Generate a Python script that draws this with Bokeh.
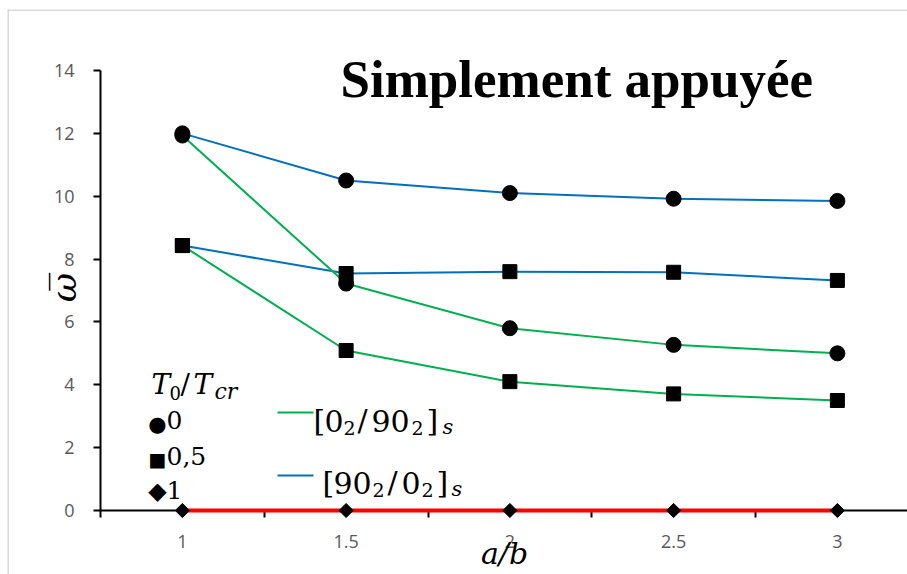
import numpy as np
from bokeh.plotting import figure
from bokeh.models import Range1d, FixedTicker, Label, BoxAnnotation
from bokeh.embed import file_html
from bokeh.resources import INLINE

# ---- data ----
ab = [1, 1.5, 2, 2.5, 3]
x_tick_labels = ["1", "1.5", "2", "2.5", "3"]
y_ticks = [0, 2, 4, 6, 8, 10, 12, 14]
w_0290_t0 = [11.93, 7.22, 5.80, 5.27, 5.00]     # [02/902]s, T0/Tcr = 0
w_0290_t05 = [8.43, 5.09, 4.10, 3.71, 3.50]     # [02/902]s, T0/Tcr = 0,5
w_9002_t0 = [12.00, 10.50, 10.10, 9.92, 9.85]   # [902/02]s, T0/Tcr = 0
w_9002_t05 = [8.43, 7.54, 7.60, 7.58, 7.32]     # [902/02]s, T0/Tcr = 0,5
w_t1 = [0, 0, 0, 0, 0]                          # T0/Tcr = 1

GREEN = "#00B050"
BLUE = "#0070C0"
RED = "#FF0000"

# ---- layout helpers (pixel -> data) ----
PX_X0, PX_PER_X = 100.0, 327.5
PX_Y0, PX_PER_Y = 510.0, 440.0 / 14.0
def X(xp):
    return 0.75 + (xp - PX_X0) / PX_PER_X
def Y(yp):
    return (PX_Y0 - yp) / PX_PER_Y

W, H = 907, 574
p = figure(width=W, height=H, output_backend="svg", toolbar_location=None,
           x_range=Range1d(X(0), X(W)), y_range=Range1d(Y(H), Y(0)),
           min_border_left=0, min_border_right=0, min_border_top=0,
           min_border_bottom=0)
p.grid.visible = False
p.outline_line_color = None
p.background_fill_color = "white"
p.border_fill_color = "white"

# x axis (category-like: labels at values, tick marks between)
edges = [ab[0] - 0.25] + [a + 0.25 for a in ab]
xa = p.xaxis[0]
xa.ticker = FixedTicker(ticks=ab, minor_ticks=edges)
xa.major_label_overrides = dict(zip(ab, x_tick_labels))
xa.fixed_location = 0
xa.bounds = (edges[0], X(W))
xa.major_tick_out = 0
xa.major_tick_in = 0
xa.minor_tick_out = 7
xa.minor_tick_in = 0
xa.minor_tick_line_color = "black"
xa.minor_tick_line_width = 2
xa.axis_line_color = "black"
xa.axis_line_width = 2
xa.major_label_standoff = 17
xa.major_label_text_font = "Open Sans"
xa.major_label_text_font_size = "18px"
xa.major_label_text_color = "#595959"

ya = p.yaxis[0]
ya.ticker = FixedTicker(ticks=y_ticks, minor_ticks=[])
ya.fixed_location = edges[0]
ya.bounds = (0, 14)
ya.major_tick_out = 7
ya.major_tick_in = 0
ya.major_tick_line_color = "black"
ya.major_tick_line_width = 2
ya.minor_tick_out = 0
ya.minor_tick_in = 0
ya.axis_line_color = "black"
ya.axis_line_width = 2
ya.major_label_standoff = 19
ya.major_label_text_font = "Open Sans"
ya.major_label_text_font_size = "18px"
ya.major_label_text_color = "#595959"

# chart-area border (light grey, top and left)
p.add_layout(BoxAnnotation(left=X(7), right=X(8.5), top=Y(9), bottom=Y(H),
                           fill_color="#D9D9D9", fill_alpha=1, line_color=None))
p.add_layout(BoxAnnotation(left=X(7), right=X(W), top=Y(9), bottom=Y(10.5),
                           fill_color="#D9D9D9", fill_alpha=1, line_color=None))

# ---- series ----
for ys, col in [(w_9002_t0, BLUE), (w_9002_t05, BLUE), (w_0290_t0, GREEN), (w_0290_t05, GREEN)]:
    p.line(ab, ys, line_color=col, line_width=2)
p.line(ab, w_t1, line_color=RED, line_width=4, level="overlay")

for ys in [w_9002_t0, w_0290_t0]:
    p.scatter(ab, ys, marker="circle", size=15, fill_color="black", line_color="black")
for ys in [w_9002_t05, w_0290_t05]:
    p.scatter(ab, ys, marker="square", size=14, fill_color="black", line_color="black")
p.scatter(ab, w_t1, marker="square", size=10, angle=np.pi / 4,
          fill_color="black", line_color="black", level="overlay")

# ---- texts ----
SHIFT = 0.36  # empirical: rendered baseline sits this many em below the anchor

def txt(s, xp, yp, size, font="DejaVu Serif", style="normal", color="black",
        align="left", baseline="alphabetic", angle=0.0, fix=True):
    if fix and baseline == "alphabetic" and angle == 0.0:
        yp = yp - SHIFT * size
    p.add_layout(Label(x=X(xp), y=Y(yp), text=s, text_font=font,
                       text_font_size=f"{size}px", text_font_style=style,
                       text_color=color, text_align=align,
                       text_baseline=baseline, angle=angle))

# title
txt("Simplement appuyée", 340, 98, 53, font="Liberation Serif", style="bold")

# axis titles
txt("ω\u0305", 63, 287, 36, style="italic", align="center", angle=np.pi / 2)
txt("a/b", 504, 564, 30, style="italic", align="center")

# legend: T0/Tcr
txt("T", 151, 394, 28, style="italic")
txt("0", 169, 399, 18)
txt("/", 180, 394, 28)
txt("T", 193, 394, 28, style="italic")
txt("cr", 214, 399, 22, style="italic")

txt("●", 157, 423, 21, font="DejaVu Sans", align="center", baseline="middle")
txt("0", 166, 428, 25)
txt("■", 157, 458, 19, font="DejaVu Sans", align="center", baseline="middle")
txt("0,5", 166, 464, 25)
txt("◆", 157, 490, 24, font="DejaVu Sans", align="center", baseline="middle")
txt("1", 166, 498, 25)

# legend: line samples
p.add_layout(BoxAnnotation(left=X(277), right=X(313), top=Y(411), bottom=Y(413),
                           fill_color=GREEN, fill_alpha=1, line_color=None))
p.add_layout(BoxAnnotation(left=X(277), right=X(313), top=Y(474), bottom=Y(476),
                           fill_color=BLUE, fill_alpha=1, line_color=None))

# [0_2/90_2]_s
txt("[", 313, 431, 30)
txt("0", 324, 431, 30)
txt("2", 343, 434, 19)
txt("/", 357, 431, 30)
txt("90", 371, 431, 30)
txt("2", 411, 434, 19)
txt("]", 426, 431, 30)
txt("s", 442, 434, 21, style="italic")

# [90_2/0_2]_s
txt("[", 322, 493, 30)
txt("90", 333, 493, 30)
txt("2", 372, 496, 19)
txt("/", 387, 493, 30)
txt("0", 401, 493, 30)
txt("2", 421, 496, 19)
txt("]", 436, 493, 30)
txt("s", 451, 496, 21, style="italic")

open("out.html", "w").write(file_html(p, INLINE))
